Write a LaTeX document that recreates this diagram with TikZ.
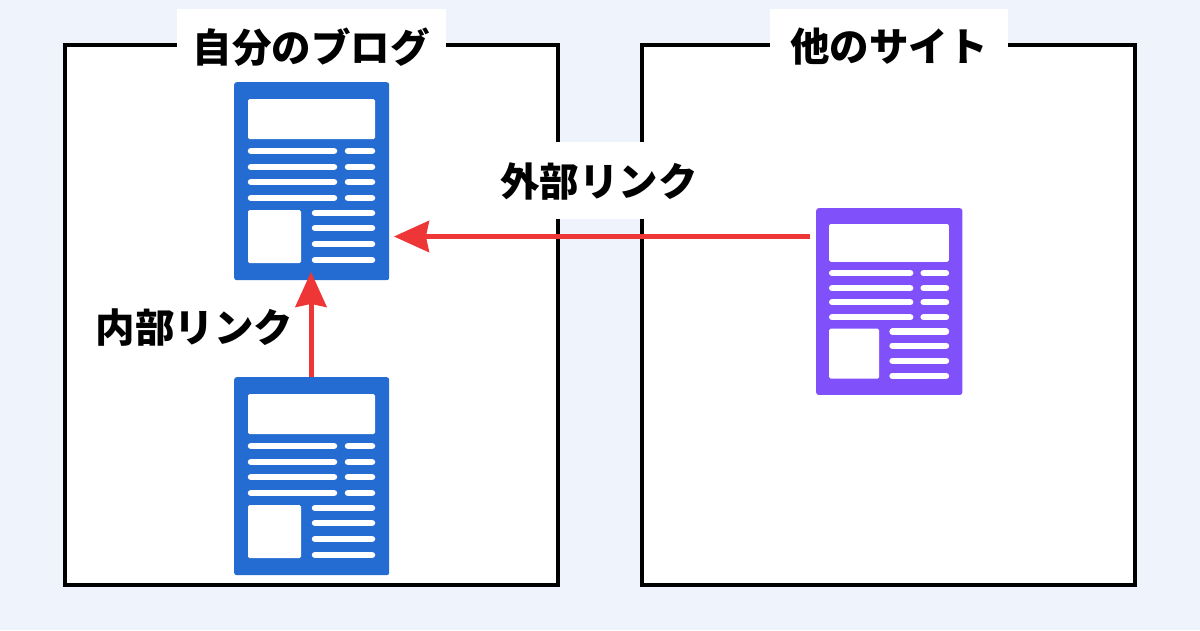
\documentclass[tikz,border=0pt]{standalone}
\usepackage{fontspec}
\newfontfamily\cjk{Noto Sans CJK JP}
\usetikzlibrary{arrows.meta}
\definecolor{pagebg}{HTML}{EFF3FB}
\definecolor{docblue}{HTML}{246BD2}
\definecolor{docpurple}{HTML}{8050FA}
\definecolor{linkred}{HTML}{EE3636}
\tikzset{
  panel/.style={draw=black,line width=3.6pt,fill=white},
  labelbg/.style={fill=white,draw=none},
  jplabel/.style={font=\cjk\bfseries\fontsize{39.5}{39.5}\selectfont,text=black,inner sep=0pt},
  docnode/.style={rectangle,rounded corners=2.5pt,fill=#1,draw=none,inner sep=0pt,minimum width=155pt,minimum height=198pt,anchor=north west},
  linkarrow/.style={draw=linkred,line width=5pt,-{Stealth[length=35pt,width=31pt,inset=3pt]}},
  bar/.style={line width=6.5pt*\docscale,line cap=round,draw=white},
  block/.style={fill=white,rounded corners=1.5pt},
}
\newcommand{\docicon}[5]{% name, x, y, scale, colour
  \def\docscale{#4}
  \node[docnode=#5,minimum width=#4*155pt,minimum height=#4*198pt] (#1) at (#2,#3) {};
  \begin{scope}[shift={(#2,#3)},scale=#4]
    \fill[block] (14,17) rectangle (141,57);
    \foreach \yy in {69,85,100,116}{
      \draw[bar] (17,\yy) -- (100,\yy);
      \draw[bar] (114,\yy) -- (138,\yy);
    }
    \fill[block] (14,128) rectangle (67,181);
    \foreach \yy in {131,146,162,178}{
      \draw[bar] (81,\yy) -- (138,\yy);
    }
  \end{scope}
}
\begin{document}
\begin{tikzpicture}[x=1pt,y=-1pt]
\useasboundingbox (0,0) rectangle (1200,630);
\fill[pagebg] (0,0) rectangle (1200,630);
\draw[panel] (65,45) rectangle (558,585);
\draw[panel] (642,45) rectangle (1135,585);
\fill[labelbg] (177,9) rectangle (446,72);
\fill[labelbg] (770,9) rectangle (1008,72);
\fill[labelbg] (470,142) rectangle (668,219);
\node[jplabel] (ownblog) at (311,47) {自分のブログ};
\node[jplabel] (othersite) at (889,47) {他のサイト};
\node[jplabel] (external) at (599,181) {外部リンク};
\node[jplabel] (internal) at (194.5,328) {内部リンク};
\docicon{docA}{234}{82}{1}{docblue}
\docicon{docB}{234}{377}{1}{docblue}
\docicon{docC}{816}{208}{0.943}{docpurple}
\draw[linkarrow,shorten <=6pt,shorten >=4.5pt] (docC.west |- 0,236.5) -- (docA.east |- 0,236.5);
\draw[linkarrow,shorten >=-8.5pt] (docB.north -| 311,0) -- (docA.south -| 311,0);
\end{tikzpicture}
\end{document}
